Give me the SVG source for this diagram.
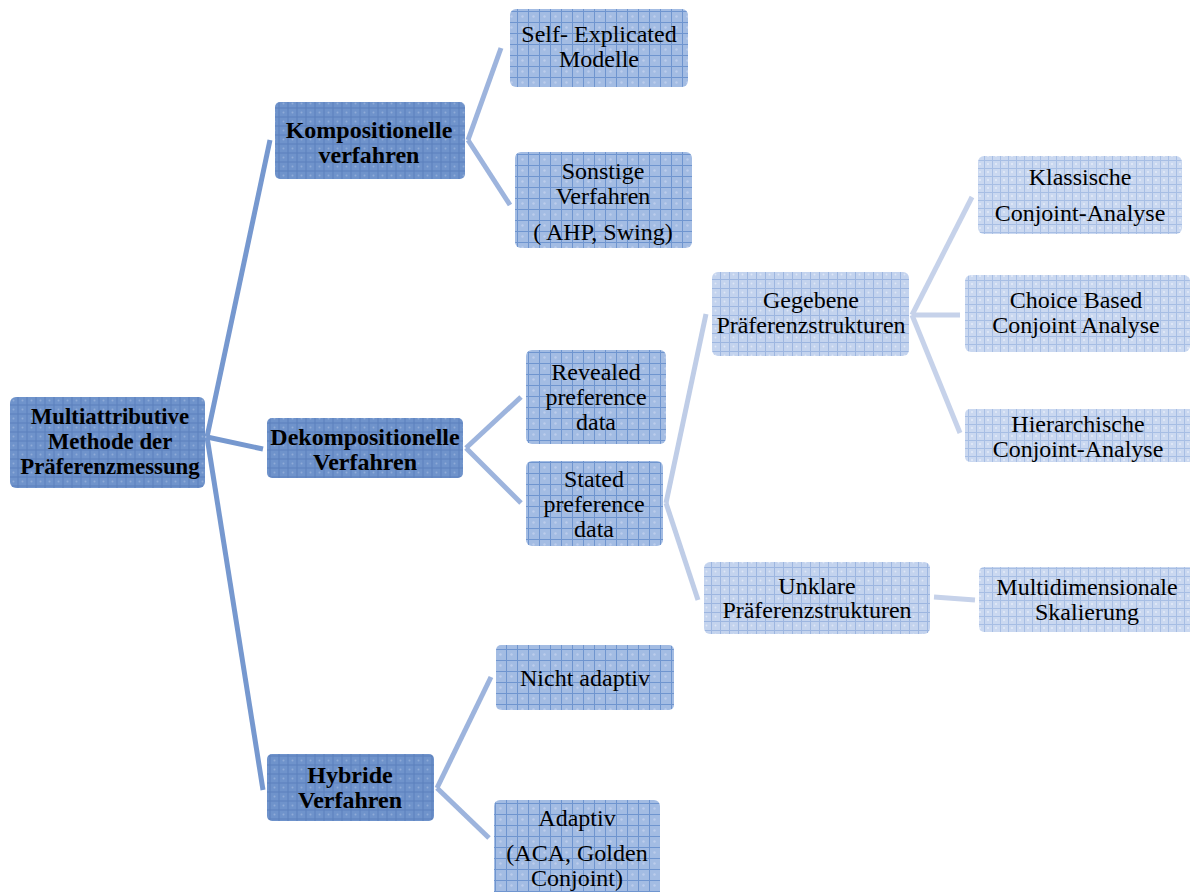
<svg xmlns="http://www.w3.org/2000/svg" width="1190" height="892" viewBox="0 0 1190 892">
<defs>
<pattern id="p1" width="9" height="9" patternUnits="userSpaceOnUse">
<rect width="9" height="9" fill="#6f93cb"/>
<rect width="9" height="9" fill="none" stroke="#5b80bd" stroke-width="1"/>
<circle cx="4.5" cy="4.5" r="1" fill="#8fabd8"/>
</pattern>
<pattern id="p2" width="11" height="11" patternUnits="userSpaceOnUse">
<rect width="11" height="11" fill="#a3bce3"/>
<path d="M0 0.5H11M0.5 0V11" stroke="#6f95cf" stroke-width="1"/>
<circle cx="5.5" cy="5.5" r="1.2" fill="#bccdec"/>
</pattern>
<pattern id="p3" width="9" height="9" patternUnits="userSpaceOnUse">
<rect width="9" height="9" fill="#c3d3ee"/>
<path d="M0 0.5H9M0.5 0V9" stroke="#9db6e0" stroke-width="1"/>
<circle cx="4.5" cy="4.5" r="1" fill="#dde6f6"/>
</pattern>
<pattern id="p4" width="8" height="8" patternUnits="userSpaceOnUse">
<rect width="8" height="8" fill="#cad8f0"/>
<path d="M0 0.5H8M0.5 0V8" stroke="#a7bee4" stroke-width="1"/>
<circle cx="4" cy="4" r="1" fill="#e4ebf8"/>
</pattern>
</defs>
<style>
.n0 rect{fill:url(#p1)}
.n1 rect{fill:url(#p1)}
.n2 rect{fill:url(#p2)}
.n3 rect{fill:url(#p3)}
.n4 rect{fill:url(#p4)}
text{font-family:"Liberation Serif","Times New Roman",serif;font-size:24px;fill:#000;text-anchor:middle}
.b text{font-weight:bold;font-size:24px}
.n0 text{font-size:22.8px}
.c line{stroke-width:5;stroke-linecap:butt}
.c0{stroke:#7698cf}
.c1{stroke:#9db4dd}
.c2{stroke:#bfcde7}
.c3{stroke:#c6d2ea}
</style>
<g id="connectors" class="c">
<line class="c0" x1="207" y1="437" x2="270" y2="140"/>
<line class="c0" x1="207" y1="437" x2="263" y2="449"/>
<line class="c0" x1="207" y1="437" x2="263" y2="790"/>
<line class="c1" x1="468" y1="140" x2="501" y2="48"/>
<line class="c1" x1="468" y1="140" x2="510" y2="205"/>
<line class="c1" x1="466" y1="448" x2="521" y2="397"/>
<line class="c1" x1="466" y1="448" x2="521" y2="503"/>
<line class="c1" x1="437" y1="788" x2="491" y2="677"/>
<line class="c1" x1="437" y1="788" x2="489" y2="838"/>
<line class="c2" x1="666" y1="503" x2="706" y2="314"/>
<line class="c2" x1="666" y1="503" x2="698" y2="600"/>
<line class="c3" x1="912" y1="315" x2="972" y2="197"/>
<line class="c3" x1="912" y1="315" x2="960" y2="315"/>
<line class="c3" x1="912" y1="315" x2="960" y2="433"/>
<line class="c3" x1="934" y1="597" x2="975" y2="600"/>
</g>
<g id="root" class="n0 b"><rect x="10" y="397" width="195" height="91" rx="6"/>
<text x="110" y="424">Multiattributive</text><text x="110" y="449">Methode der</text><text x="110" y="474">Präferenzmessung</text></g>
<g id="kompositionelle" class="n1 b"><rect x="275" y="102" width="190" height="77" rx="5"/>
<text x="369" y="138">Kompositionelle</text><text x="369" y="163">verfahren</text></g>
<g id="dekompositionelle" class="n1 b"><rect x="267" y="418" width="196" height="60" rx="5"/>
<text x="365" y="445">Dekompositionelle</text><text x="365" y="470">Verfahren</text></g>
<g id="hybride" class="n1 b"><rect x="267" y="754" width="167" height="67" rx="5"/>
<text x="350" y="783">Hybride</text><text x="350" y="808">Verfahren</text></g>
<g id="selfexplicated" class="n2"><rect x="510" y="9" width="178" height="78" rx="6"/>
<text x="599" y="42">Self- Explicated</text><text x="599" y="67">Modelle</text></g>
<g id="sonstige" class="n2"><rect x="515" y="152" width="177" height="96" rx="6"/>
<text x="603" y="179">Sonstige</text><text x="603" y="204">Verfahren</text><text x="603" y="240">( AHP, Swing)</text></g>
<g id="revealed" class="n2"><rect x="526" y="350" width="140" height="94" rx="6"/>
<text x="596" y="380">Revealed</text><text x="596" y="405">preference</text><text x="596" y="430">data</text></g>
<g id="stated" class="n2"><rect x="526" y="461" width="137" height="85" rx="6"/>
<text x="594" y="487">Stated</text><text x="594" y="512">preference</text><text x="594" y="537">data</text></g>
<g id="nichtadaptiv" class="n2"><rect x="496" y="645" width="178" height="65" rx="5"/>
<text x="585" y="686">Nicht adaptiv</text></g>
<g id="adaptiv" class="n2"><rect x="494" y="800" width="166" height="100" rx="6"/>
<text x="577" y="826">Adaptiv</text><text x="577" y="861">(ACA, Golden</text><text x="577" y="886">Conjoint)</text></g>
<g id="gegebene" class="n3"><rect x="712" y="272" width="197" height="84" rx="6"/>
<text x="811" y="308">Gegebene</text><text x="811" y="333">Präferenzstrukturen</text></g>
<g id="unklare" class="n3"><rect x="704" y="562" width="226" height="72" rx="6"/>
<text x="817" y="594">Unklare</text><text x="817" y="618">Präferenzstrukturen</text></g>
<g id="klassische" class="n4"><rect x="978" y="156" width="204" height="78" rx="6"/>
<text x="1080" y="185">Klassische</text><text x="1080" y="221">Conjoint-Analyse</text></g>
<g id="choicebased" class="n4"><rect x="965" y="275" width="225" height="77" rx="6"/>
<text x="1076" y="308">Choice Based</text><text x="1076" y="333">Conjoint Analyse</text></g>
<g id="hierarchische" class="n4"><rect x="965" y="409" width="230" height="53" rx="5"/>
<text x="1078" y="432">Hierarchische</text><text x="1078" y="457">Conjoint-Analyse</text></g>
<g id="multidimensionale" class="n4"><rect x="979" y="567" width="216" height="65" rx="5"/>
<text x="1087" y="595">Multidimensionale</text><text x="1087" y="620">Skalierung</text></g>
</svg>
